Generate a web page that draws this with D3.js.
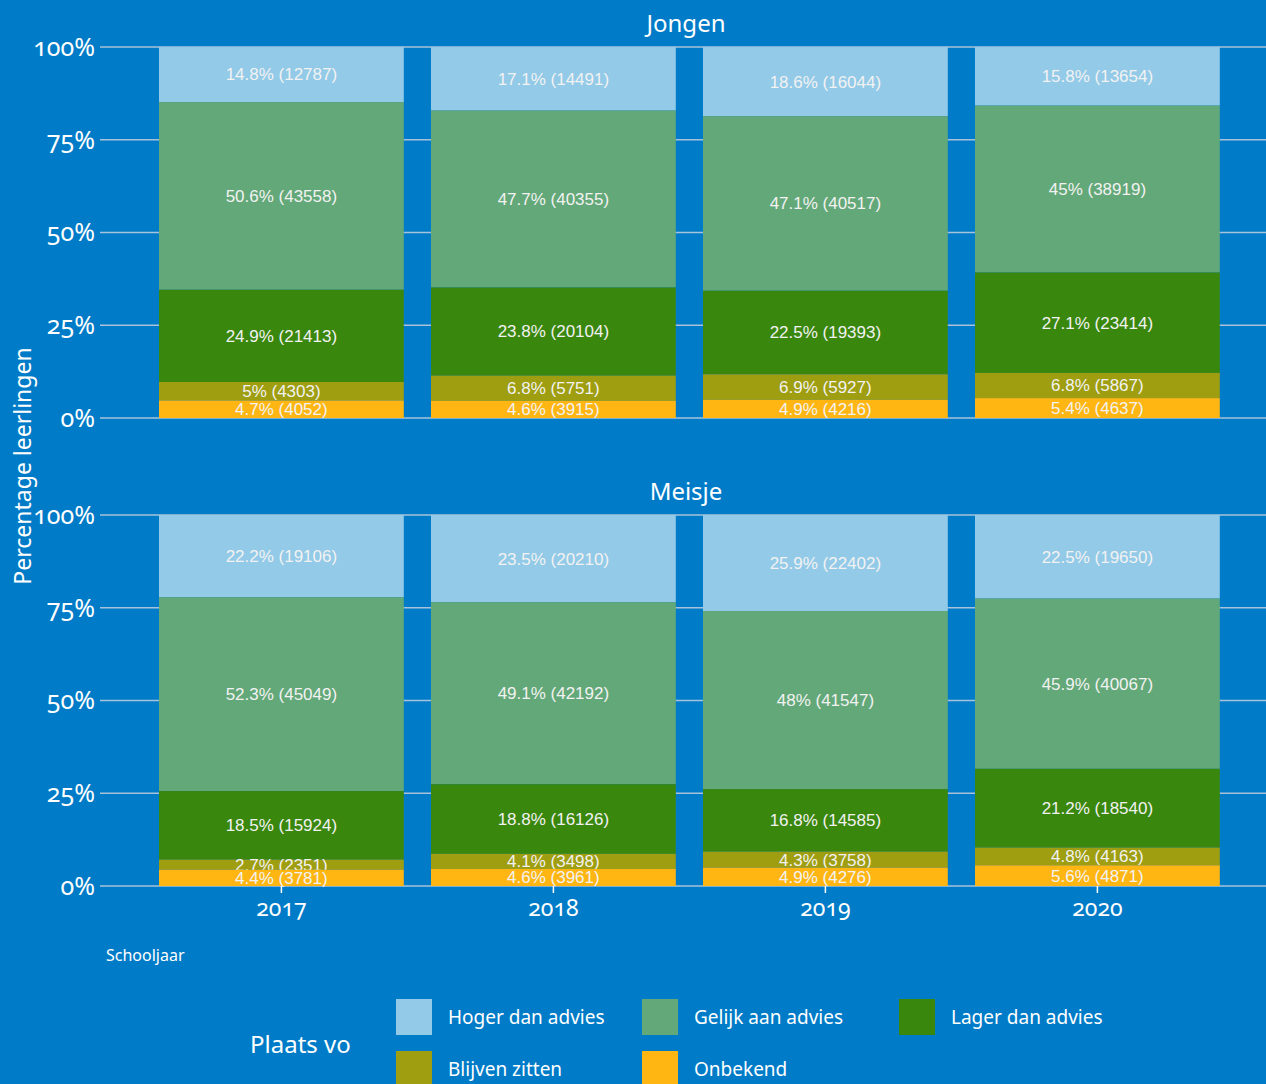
<!DOCTYPE html>
<html>
<head>
<meta charset="utf-8">
<script src="https://cdn.jsdelivr.net/npm/d3@7"></script>
<style>
  html, body { margin: 0; padding: 0; background: #007BC7; }
  svg { display: block; }
  .tick-y { font-family: "Noto Sans", "Open Sans", sans-serif; font-variant-numeric: oldstyle-nums; }
</style>
</head>
<body>
<div id="graphWrapper"></div>
<script>
// data
var years = ["2017", "2018", "2019", "2020"];
var categories = ["Hoger dan advies", "Gelijk aan advies", "Lager dan advies", "Blijven zitten", "Onbekend"];
var colors = ["#92CAE8", "#63A878", "#3A870E", "#9E9E10", "#FFB612"];
var panels = ["Jongen", "Meisje"];
var yTicks = [0, 0.25, 0.5, 0.75, 1];

// Jongen: counts and percentage labels per category (rows) by year (columns)
var jongenCounts = [
    [12787, 14491, 16044, 13654],
    [43558, 40355, 40517, 38919],
    [21413, 20104, 19393, 23414],
    [4303, 5751, 5927, 5867],
    [4052, 3915, 4216, 4637]
];
var jongenPct = [
    ["14.8", "17.1", "18.6", "15.8"],
    ["50.6", "47.7", "47.1", "45"],
    ["24.9", "23.8", "22.5", "27.1"],
    ["5", "6.8", "6.9", "6.8"],
    ["4.7", "4.6", "4.9", "5.4"]
];
// Meisje
var meisjeCounts = [
    [19106, 20210, 22402, 19650],
    [45049, 42192, 41547, 40067],
    [15924, 16126, 14585, 18540],
    [2351, 3498, 3758, 4163],
    [3781, 3961, 4276, 4871]
];
var meisjePct = [
    ["22.2", "23.5", "25.9", "22.5"],
    ["52.3", "49.1", "48", "45.9"],
    ["18.5", "18.8", "16.8", "21.2"],
    ["2.7", "4.1", "4.3", "4.8"],
    ["4.4", "4.6", "4.9", "5.6"]
];

var w = 1266, h = 1084;
var svg = d3.select("#graphWrapper").append("svg")
    .attr("width", w)
    .attr("height", h);

svg.append("rect").attr("width", w).attr("height", h).attr("fill", "#007BC7");

var plotLeft = 106, plotRight = 1266;
var x = d3.scaleBand()
    .domain(years)
    .range([131.8, 1247])
    .paddingInner(0.1)
    .paddingOuter(0.1);

var panelTops = [47, 515];
var panelHeight = 371;
var panelData = [
    {counts: jongenCounts, pct: jongenPct},
    {counts: meisjeCounts, pct: meisjePct}
];

panels.forEach(function(name, p){
    var top = panelTops[p];
    var y = d3.scaleLinear().domain([0, 1]).range([top + panelHeight, top]);
    var g = svg.append("g");

    // facet title
    g.append("text")
        .attr("x", (plotLeft + plotRight) / 2)
        .attr("y", top - 15)
        .attr("text-anchor", "middle")
        .style("font-family", "'Noto Sans', sans-serif")
        .style("font-size", "24px")
        .style("fill", "#ffffff")
        .text(name);

    // gridlines
    g.selectAll(".grid")
        .data(yTicks)
        .enter().append("line")
        .attr("x1", plotLeft - 6).attr("x2", plotRight)
        .attr("y1", function(d){ return y(d); })
        .attr("y2", function(d){ return y(d); })
        .attr("stroke", "#A7C2DA")
        .attr("stroke-width", 1.5);

    // y tick labels
    g.selectAll(".ylab")
        .data(yTicks)
        .enter().append("text")
        .attr("class", "tick-y")
        .attr("x", 95)
        .attr("y", function(d){ return y(d); })
        .attr("dy", "0.35em")
        .attr("text-anchor", "end")
        .style("font-size", "25px")
        .style("fill", "#ffffff")
        .text(function(d){ return Math.round(d * 100) + "%"; });

    // stacked bars, top to bottom in category order
    var d = panelData[p];
    years.forEach(function(yr, j){
        var total = d3.sum(d.counts, function(row){ return row[j]; });
        var cum = 1;
        categories.forEach(function(cat, i){
            var frac = d.counts[i][j] / total;
            var y1 = cum, y0 = cum - frac;
            cum = y0;
            g.append("rect")
                .attr("x", x(yr))
                .attr("width", x.bandwidth())
                .attr("y", y(y1))
                .attr("height", y(y0) - y(y1))
                .attr("fill", colors[i]);
            g.append("text")
                .attr("x", x(yr) + x.bandwidth() / 2)
                .attr("y", y((y0 + y1) / 2))
                .attr("dy", "0.35em")
                .attr("text-anchor", "middle")
                .style("font-family", "'Liberation Sans', Arial, sans-serif")
                .style("font-size", "17px")
                .style("fill", "#F2F2F2")
                .text(d.pct[i][j] + "% (" + d.counts[i][j] + ")");
        });
    });

    // x axis only on bottom panel
    if (p === panels.length - 1) {
        g.selectAll(".xtick")
            .data(years)
            .enter().append("line")
            .attr("x1", function(d){ return x(d) + x.bandwidth() / 2; })
            .attr("x2", function(d){ return x(d) + x.bandwidth() / 2; })
            .attr("y1", top + panelHeight)
            .attr("y2", top + panelHeight + 7)
            .attr("stroke", "#ffffff")
            .attr("stroke-width", 1.5);
        g.selectAll(".xlab")
            .data(years)
            .enter().append("text")
            .attr("class", "tick-y")
            .attr("x", function(d){ return x(d) + x.bandwidth() / 2; })
            .attr("y", top + panelHeight + 30)
            .attr("text-anchor", "middle")
            .style("font-size", "23px")
            .style("fill", "#ffffff")
            .text(function(d){ return d; });
    }
});

// y axis title
svg.append("text")
    .attr("transform", "translate(31," + 466 + ") rotate(-90)")
    .attr("text-anchor", "middle")
    .style("font-family", "'Noto Sans', sans-serif")
    .style("font-size", "23px")
    .style("fill", "#ffffff")
    .text("Percentage leerlingen");

// x axis title
svg.append("text")
    .attr("x", 106)
    .attr("y", 961)
    .style("font-family", "'Noto Sans', sans-serif")
    .style("font-size", "16px")
    .style("fill", "#ffffff")
    .text("Schooljaar");

// legend
svg.append("text")
    .attr("x", 250)
    .attr("y", 1053)
    .style("font-family", "'Noto Sans', sans-serif")
    .style("font-size", "24px")
    .style("fill", "#ffffff")
    .text("Plaats vo");

var legendX = [396, 642, 899];
var legendY = [999, 1051];
var legend = svg.selectAll(".legend")
    .data(categories)
    .enter().append("g")
    .attr("transform", function(d, i){
        return "translate(" + legendX[i % 3] + "," + legendY[Math.floor(i / 3)] + ")";
    });
legend.append("rect")
    .attr("width", 36)
    .attr("height", 36)
    .attr("fill", function(d, i){ return colors[i]; });
legend.append("text")
    .attr("x", 52)
    .attr("y", 18)
    .attr("dy", "0.35em")
    .style("font-family", "'Noto Sans', sans-serif")
    .style("font-size", "19px")
    .style("fill", "#ffffff")
    .text(function(d){ return d; });
</script>
</body>
</html>
